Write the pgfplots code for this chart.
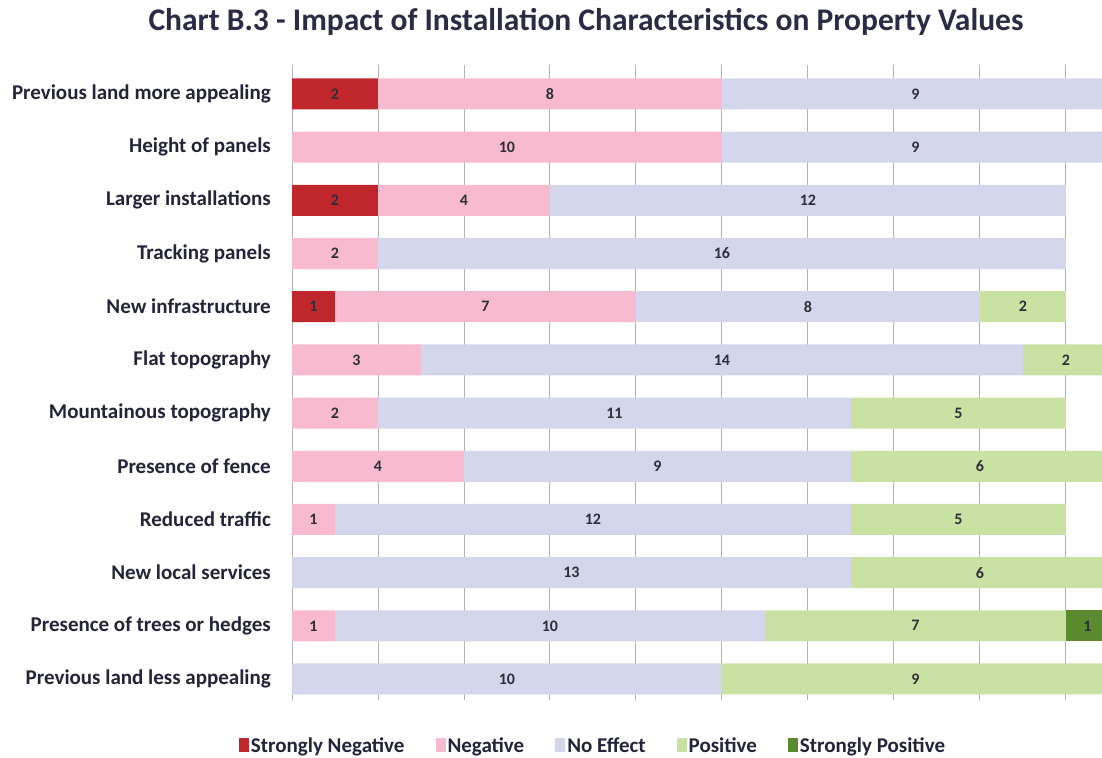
\documentclass[border=0pt]{standalone}
\usepackage{fontspec}
\setmainfont{Carlito}
\usepackage{pgfplots}
\pgfplotsset{compat=1.18}
\usepackage{pgfplotstable}
\definecolor{sneg}{HTML}{C0272D}
\definecolor{neg}{HTML}{F8BACF}
\definecolor{noeff}{HTML}{D4D7EC}
\definecolor{pos}{HTML}{C9E2A4}
\definecolor{spos}{HTML}{5C8A2E}
\definecolor{lab}{HTML}{23233A}
\definecolor{vlab}{HTML}{2E2E38}
\definecolor{titc}{HTML}{2B2B45}

\pgfplotstableread{
y SN N NE P SP
0 0 0 10 9 0
1 0 1 10 7 1
2 0 0 13 6 0
3 0 1 12 5 0
4 0 4 9 6 0
5 0 2 11 5 0
6 0 3 14 2 0
7 1 7 8 2 0
8 0 2 16 0 0
9 2 4 12 0 0
10 0 10 9 0 0
11 2 8 9 0 0
}\data

\begin{document}
\begin{tikzpicture}
\useasboundingbox (0,0) rectangle (1102pt,757pt);
\node[font=\fontsize{31.5}{36}\selectfont\bfseries, text=titc] at (586pt,735pt) {Chart B.3 - Impact of Installation Characteristics on Property Values};
\begin{axis}[
  at={(292pt,57pt)}, anchor=south west,
  scale only axis, width=838.3pt, height=635pt,
  xbar stacked, bar width=31pt,
  xmin=0, xmax=19.5, ymin=-0.395, ymax=11.545,
  axis line style={draw=none},
  xtick={0,2,...,18}, xticklabels={},
  xmajorgrids, grid style={gray!60, line width=0.9pt},
  ytick={0,...,11},
  yticklabels={Previous land less appealing, Presence of trees or hedges, New local services, Reduced traffic, Presence of fence, Mountainous topography, Flat topography, New infrastructure, Tracking panels, Larger installations, Height of panels, Previous land more appealing},
  major tick length=0pt,
  yticklabel style={font=\fontsize{21}{24}\selectfont\bfseries, text=lab, inner sep=0pt, xshift=-21pt},
  /pgf/number format/assume math mode=true,
  nodes near coords={\pgfmathfloatifflags{\pgfplotspointmeta}{0}{}{\pgfmathprintnumber{\pgfplotspointmeta}}},
  every node near coord/.append style={font=\fontsize{16}{18}\selectfont\bfseries, text=vlab},
  legend style={at={(301pt,-46pt)}, anchor=center, legend columns=5, draw=none,
    font=\fontsize{21}{23}\selectfont\bfseries, text=lab, inner sep=0pt,
    /tikz/every even column/.append style={column sep=29pt}},
  legend image code/.code={\draw[#1, draw=none] (0pt,-6pt) rectangle (10pt,8pt);},
]
\addplot[fill=sneg, draw=none] table[x=SN, y=y] {\data};
\addplot[fill=neg, draw=none] table[x=N, y=y] {\data};
\addplot[fill=noeff, draw=none] table[x=NE, y=y] {\data};
\addplot[fill=pos, draw=none] table[x=P, y=y] {\data};
\addplot[fill=spos, draw=none] table[x=SP, y=y] {\data};
\legend{Strongly Negative, Negative, No Effect, Positive, Strongly Positive}
\end{axis}
\end{tikzpicture}
\end{document}
